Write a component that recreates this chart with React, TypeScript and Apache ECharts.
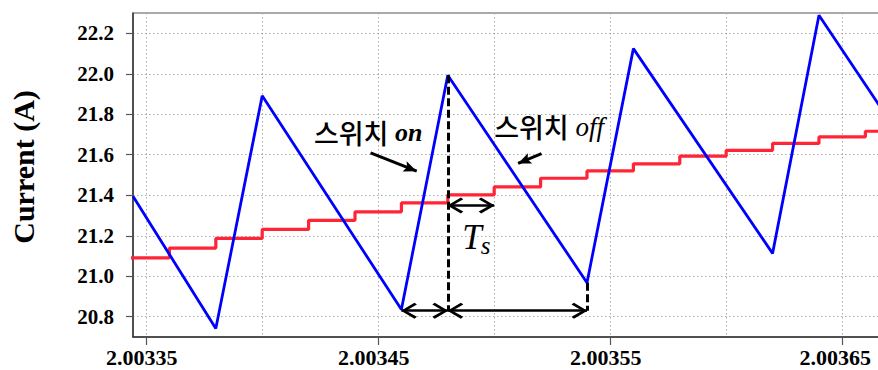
import React, { useEffect, useRef } from 'react';
import * as echarts from 'echarts';

// Inductor current (blue triangular wave): x = time [s], y = current [A]
const currentX = [2.0033443, 2.00338, 2.0034, 2.00346, 2.00348, 2.00354, 2.00356, 2.00362, 2.00364, 2.0036676];
const currentY = [21.395, 20.742, 21.891, 20.836, 21.993, 20.968, 22.124, 21.113, 22.289, 21.816];

// Sampled current (red staircase), level held from each x until the next
const sampleX = [2.00334, 2.00336, 2.00338, 2.0034, 2.00342, 2.00344, 2.00346, 2.00348, 2.0035, 2.00352, 2.00354, 2.00356, 2.00358, 2.0036, 2.00362, 2.00364, 2.00366, 2.00368];
const sampleY = [21.091, 21.139, 21.187, 21.231, 21.276, 21.318, 21.362, 21.402, 21.441, 21.484, 21.52, 21.555, 21.593, 21.622, 21.656, 21.688, 21.716, 21.716];

// Axis ticks
const xLabelTicks = [2.00335, 2.00345, 2.00355, 2.00365];
const xGridTicks = [2.00335, 2.0034, 2.00345, 2.0035, 2.00355, 2.0036, 2.00365];
const yTicks = [20.8, 21.0, 21.2, 21.4, 21.6, 21.8, 22.0, 22.2];
const xRange = [2.0033443, 2.0036676];
const yRange = [20.7, 22.3];

// Annotation anchors (data coordinates)
const onStartX = 2.00346; // switch-on start (valley)
const peakX = 2.00348; // switch-off start (peak)
const valleyX = 2.00354; // next valley
const tsEndX = 2.0035; // one sampling period after the peak
const peakY = 21.993;
const valleyY = 20.968;
const baseY = 20.83;
const tsY = 21.35;
const onArrow = [[2.0034467, 21.609], [2.0034666, 21.519]];
const offArrow = [[2.0035204, 21.606], [2.0035103, 21.557]];
const onLabel = [2.0034223, 21.712];
const offLabel = [2.0035, 21.738];
const tLabel = [2.0034862, 21.19];
const sLabel = [2.0034942, 21.152];

const chevron = 'path://M7,0L7.01,0L7,0.01Z M7,10L14,19L12.4,20.6L7,13.4L1.6,20.6L0,19Z';
const pointer = 'path://M5,0L5.01,0L5,0.01Z M5,10L10,20L5,18L0,20Z';

const SERIF = '"Liberation Serif", "Times New Roman", serif';
const KR = '"Noto Sans CJK KR", "Noto Sans", sans-serif';

export default function App() {
  const ref = useRef<HTMLDivElement>(null);

  useEffect(() => {
    if (!ref.current) return;
    const chart = echarts.init(ref.current, null, { renderer: 'svg' });

    const dashed = { type: [8, 3.5], width: 3, color: '#000' };
    const solid = { type: 'solid', width: 2.7, color: '#000' };
    const head = { symbol: chevron, symbolSize: [16, 31] };
    const lastX = xLabelTicks[xLabelTicks.length - 1];

    const option: any = {
      animation: false,
      backgroundColor: '#fff',
      grid: {
        left: 133,
        top: 13,
        width: 750,
        height: 324,
        show: true,
        borderColor: '#555',
        borderWidth: 1,
        containLabel: false,
        outerBoundsMode: 'none',
      },
      xAxis: [
        {
          type: 'value',
          min: xRange[0],
          max: xRange[1],
          axisLine: { show: true, lineStyle: { color: '#333', width: 1.5 } },
          axisTick: { show: true, length: 8, customValues: xLabelTicks, lineStyle: { color: '#555', width: 1.2 } },
          axisLabel: {
            show: true,
            customValues: xLabelTicks,
            formatter: (v: number) =>
              Math.abs(v - lastX) < 1e-9 ? '{last|' + v.toFixed(5) + '}' : '{n|' + v.toFixed(5) + '}',
            rich: {
              n: { fontFamily: SERIF, fontWeight: 'bold', fontSize: 22, color: '#000', padding: [0, 9, 0, 0] },
              last: { fontFamily: SERIF, fontWeight: 'bold', fontSize: 22, color: '#000', padding: [0, 14, 0, 0] },
            },
            fontFamily: SERIF,
            fontWeight: 'bold',
            fontSize: 22,
            color: '#000',
            margin: 9,
          },
          splitLine: { show: false },
        },
        {
          type: 'value',
          min: xRange[0],
          max: xRange[1],
          position: 'bottom',
          axisLine: { show: false },
          axisTick: { show: false, customValues: xGridTicks },
          axisLabel: { show: false, customValues: xGridTicks },
          splitLine: { show: true, lineStyle: { color: '#aaa', width: 1, type: [1.5, 2.5] } },
        },
      ],
      yAxis: {
        type: 'value',
        min: yRange[0],
        max: yRange[1],
        name: 'Current (A)',
        nameLocation: 'middle',
        nameGap: 95,
        nameTextStyle: { fontFamily: SERIF, fontWeight: 'bold', fontSize: 30, color: '#000', padding: [0, 0, 0, 16] },
        axisLine: { show: true, lineStyle: { color: '#333', width: 1.5 } },
        axisTick: { show: true, length: 7, customValues: yTicks, lineStyle: { color: '#555', width: 1.2 } },
        axisLabel: {
          customValues: yTicks,
          formatter: (v: number) => v.toFixed(1),
          fontFamily: SERIF,
          fontWeight: 'bold',
          fontSize: 21,
          color: '#000',
          margin: 19,
        },
        splitLine: { show: true, lineStyle: { color: '#aaa', width: 1, type: [1.5, 2.5] } },
      },
      series: [
        {
          type: 'line',
          name: 'sampled',
          xAxisIndex: 0,
          step: 'end',
          data: sampleX.map((x, i) => [x, sampleY[i]]),
          symbol: 'none',
          lineStyle: { color: '#ff2436', width: 3.2 },
          z: 2,
        },
        {
          type: 'line',
          name: 'current',
          xAxisIndex: 0,
          data: currentX.map((x, i) => [x, currentY[i]]),
          symbol: 'none',
          lineStyle: { color: '#0000ff', width: 2.8 },
          z: 3,
          markLine: {
            silent: true,
            animation: false,
            symbol: ['none', 'none'],
            label: { show: false },
            emphasis: { disabled: true },
            data: [
              [{ coord: [peakX, peakY], lineStyle: dashed }, { coord: [peakX, baseY] }],
              [{ coord: [valleyX, valleyY], lineStyle: dashed }, { coord: [valleyX, baseY] }],
              [
                { coord: [onStartX, baseY], lineStyle: solid, ...head },
                { coord: [peakX, baseY], ...head },
              ],
              [
                { coord: [peakX, baseY], lineStyle: solid, ...head },
                { coord: [valleyX, baseY], ...head },
              ],
              [
                { coord: [peakX, tsY], lineStyle: solid, ...head },
                { coord: [tsEndX, tsY], ...head },
              ],
              [
                { coord: onArrow[0], lineStyle: { ...solid, width: 3 }, symbol: 'none' },
                { coord: onArrow[1], symbol: pointer, symbolSize: [11, 26] },
              ],
              [
                { coord: offArrow[0], lineStyle: { ...solid, width: 3 }, symbol: 'none' },
                { coord: offArrow[1], symbol: pointer, symbolSize: [11, 26] },
              ],
            ],
          },
        },
      ],
    };

    chart.setOption(option);

    const px = (p: number[]) => chart.convertToPixel({ gridIndex: 0 }, p) as number[];
    const on = px(onLabel);
    const off = px(offLabel);
    const t = px(tLabel);
    const s = px(sLabel);
    const rich = {
      k: { fontFamily: KR, fontSize: 27, fontWeight: 500, fill: '#000' },
      e: { fontFamily: SERIF, fontSize: 26, fontStyle: 'italic', fontWeight: 'bold', fill: '#000' },
      f: { fontFamily: SERIF, fontSize: 27, fontStyle: 'italic', fontWeight: 'normal', fill: '#000' },
    };
    chart.setOption({
      graphic: [
        {
          type: 'text',
          z: 10,
          silent: true,
          style: { text: '{k|스위치}{e| on}', rich, x: on[0], y: on[1], align: 'left', verticalAlign: 'middle' },
        },
        {
          type: 'text',
          z: 10,
          silent: true,
          style: { text: '{k|스위치}{f| off}', rich, x: off[0], y: off[1], align: 'left', verticalAlign: 'middle' },
        },
        {
          type: 'text',
          z: 10,
          silent: true,
          style: {
            text: 'T',
            x: t[0],
            y: t[1],
            fontFamily: SERIF,
            fontStyle: 'italic',
            fontSize: 35,
            fill: '#000',
            align: 'left',
            verticalAlign: 'middle',
          },
        },
        {
          type: 'text',
          z: 10,
          silent: true,
          style: {
            text: 's',
            x: s[0],
            y: s[1],
            fontFamily: SERIF,
            fontStyle: 'italic',
            fontSize: 25,
            fill: '#000',
            align: 'left',
            verticalAlign: 'middle',
          },
        },
      ],
    });

    return () => chart.dispose();
  }, []);

  return (
    <div
      ref={ref}
      style={{ position: 'fixed', left: 0, top: 0, width: 878, height: 370, overflow: 'hidden' }}
    />
  );
}
